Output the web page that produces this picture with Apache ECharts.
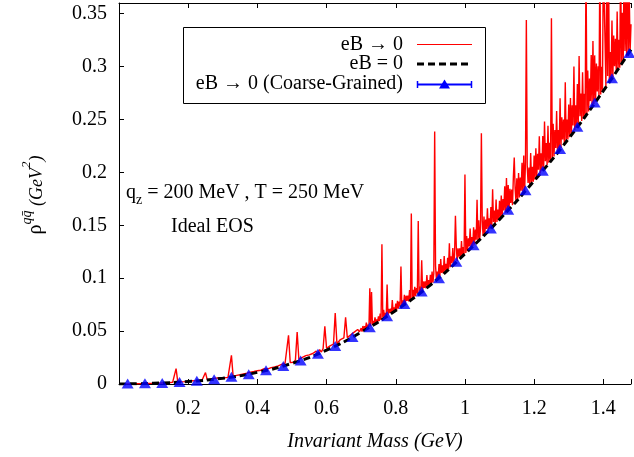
<!DOCTYPE html>
<html>
<head>
<meta charset="utf-8">
<script src="https://cdn.jsdelivr.net/npm/echarts@6/dist/echarts.min.js"></script>
<style>
  html, body { margin: 0; padding: 0; background: #fff; }
  #chart { width: 634px; height: 457px; }
</style>
</head>
<body>
<div id="chart"></div>
<script>
// Spectral function rho^{q qbar} vs invariant mass (GeV)

// eB -> 0, low-mass part: sampled every 5 MeV from 0.005 GeV
const redLowStart = 0.005;
const redLowStep = 0.005;
const redLowValues = [
  0, 0, 0, 0, 0.0001, 0.0001, 0.0001, 0.0002, 0.0002, 0.0003,
  0.0003, 0.0003, 0.0004, 0.0004, 0.0004, 0.0005, 0.0005, 0.0006, 0.0006, 0.0007,
  0.0007, 0.0008, 0.0008, 0.0009, 0.001, 0.001, 0.0011, 0.0012, 0.0013, 0.0014,
  0.0016, 0.0017, 0.0145, 0.0018, 0.0019, 0.002, 0.0024, 0.0022, 0.0023, 0.0026,
  0.0027, 0.0032, 0.0029, 0.003, 0.0034, 0.0033, 0.0036, 0.0035, 0.0048, 0.0108,
  0.0041, 0.0043, 0.0046, 0.0044, 0.0052, 0.0049, 0.0058, 0.0052, 0.0055, 0.0062,
  0.0059, 0.0066, 0.0063, 0.0071, 0.027, 0.007, 0.0078, 0.0082, 0.0079, 0.0088,
  0.0085, 0.0095, 0.0091, 0.0102, 0.0098, 0.0112, 0.0105, 0.0118, 0.0112, 0.0125,
  0.0117, 0.013, 0.0124, 0.0145, 0.0131, 0.0142, 0.0139, 0.0155, 0.0148, 0.0162,
  0.0156, 0.0172, 0.0163, 0.0185, 0.0172, 0.0196, 0.0188, 0.046, 0.0202, 0.0215,
  0.0206, 0.0228, 0.049, 0.0232, 0.0225, 0.0252, 0.0238, 0.0268, 0.0252, 0.0275,
  0.0262, 0.0288, 0.0275, 0.031, 0.029, 0.0325, 0.0302, 0.0335, 0.0546, 0.0338,
  0.0335, 0.036, 0.0345, 0.0378, 0.067, 0.038, 0.0395, 0.042, 0.0405, 0.0435,
  0.063, 0.0438, 0.0425, 0.0465, 0.0448, 0.049, 0.0472, 0.0515, 0.0492, 0.0528
];

// eB -> 0, high-mass part: sampled every 2.5 MeV from 0.7025 GeV
const redHighStart = 0.7025;
const redHighStep = 0.0025;
const redHighValues = [
  0.0495, 0.0548, 0.0505, 0.0546, 0.0524, 0.058, 0.0525, 0.056, 0.0535, 0.0905,
  0.0545, 0.087, 0.0564, 0.0596, 0.0565, 0.063, 0.0575, 0.061, 0.0585, 0.0638,
  0.0595, 0.0665, 0.0606, 0.132, 0.0628, 0.0702, 0.0627, 0.0672, 0.0637, 0.094,
  0.0648, 0.0709, 0.067, 0.0712, 0.0669, 0.0794, 0.0679, 0.0725, 0.069, 0.0759,
  0.0701, 0.0787, 0.0712, 0.0778, 0.0739, 0.111, 0.0735, 0.0791, 0.0747, 0.0843,
  0.0758, 0.0834, 0.0785, 0.0836, 0.0781, 0.0887, 0.0793, 0.161, 0.0804, 0.089,
  0.0816, 0.0919, 0.0829, 0.0907, 0.0859, 0.154, 0.0854, 0.092, 0.0866, 0.117,
  0.0879, 0.0969, 0.0909, 0.097, 0.0904, 0.103, 0.0916, 0.0983, 0.0929, 0.1031,
  0.0942, 0.1062, 0.0957, 0.1048, 0.2385, 0.1119, 0.0986, 0.1063, 0.1, 0.1134,
  0.1015, 0.118, 0.105, 0.1121, 0.1044, 0.121, 0.1058, 0.1136, 0.1073, 0.1192,
  0.1088, 0.133, 0.1103, 0.1206, 0.1142, 0.1285, 0.1133, 0.122, 0.159, 0.1299,
  0.1163, 0.1282, 0.1202, 0.1281, 0.1193, 0.135, 0.1208, 0.1295, 0.1223, 0.198,
  0.1238, 0.1398, 0.1254, 0.1376, 0.1299, 0.1468, 0.1286, 0.1389, 0.1302, 0.1481,
  0.1318, 0.1459, 0.1363, 0.174, 0.135, 0.1548, 0.1366, 0.1469, 0.237, 0.1542,
  0.1398, 0.1583, 0.1415, 0.1555, 0.1464, 0.166, 0.1448, 0.1566, 0.1464, 0.1671,
  0.1481, 0.184, 0.153, 0.1638, 0.1514, 0.1742, 0.153, 0.1649, 0.1547, 0.1731,
  0.1564, 0.1781, 0.1582, 0.1747, 0.1639, 0.1869, 0.1618, 0.1946, 0.1636, 0.1879,
  0.1654, 0.1845, 0.1711, 0.1837, 0.169, 0.1959, 0.214, 0.1847, 0.1726, 0.1943,
  0.1744, 0.1994, 0.1763, 0.1952, 0.1826, 0.2091, 0.18, 0.216, 0.1818, 0.2098,
  0.344, 0.2056, 0.19, 0.2045, 0.1874, 0.2183, 0.1892, 0.2052, 0.1911, 0.216,
  0.193, 0.2228, 0.195, 0.2176, 0.2024, 0.234, 0.199, 0.218, 0.201, 0.2344,
  0.203, 0.248, 0.2104, 0.2276, 0.207, 0.244, 0.209, 0.228, 0.211, 0.3455,
  0.213, 0.246, 0.215, 0.24, 0.223, 0.258, 0.219, 0.24, 0.221, 0.27,
  0.223, 0.252, 0.231, 0.25, 0.227, 0.285, 0.229, 0.25, 0.231, 0.264,
  0.2331, 0.2702, 0.2353, 0.2634, 0.2443, 0.3, 0.2397, 0.2633, 0.2419, 0.2835,
  0.2441, 0.31, 0.253, 0.2744, 0.2485, 0.2946, 0.2507, 0.2743, 0.2529, 0.4,
  0.2552, 0.2963, 0.2575, 0.2886, 0.2673, 0.3109, 0.2621, 0.324, 0.2644, 0.3105,
  0.2667, 0.3028, 0.2765, 0.3001, 0.2713, 0.4, 0.2736, 0.2997, 0.2759, 0.4,
  0.4, 0.3233, 0.2805, 0.4, 0.2911, 0.4, 0.2851, 0.3137, 0.2874, 0.3435,
  0.2897, 0.3293, 0.3003, 0.3261, 0.2943, 0.352, 0.2966, 0.3252, 0.2989, 0.4,
  0.3013, 0.3507, 0.304, 0.4, 0.3147, 0.368, 0.3093, 0.4, 0.312, 0.3673,
  0.3147, 0.34
];

// eB = 0 : smooth reference curve
const blackX = [0, 0.1, 0.2, 0.3, 0.4, 0.5, 0.6, 0.7, 0.8, 0.9, 1.0, 1.1, 1.2, 1.3, 1.4, 1.48];
const blackY = [0, 0.0007, 0.0024, 0.0055, 0.011, 0.0195, 0.032, 0.049, 0.0695, 0.0935, 0.123, 0.1555, 0.192, 0.232, 0.277, 0.316];

// eB -> 0, coarse-grained in 50 MeV bins
const cgX = [0.025, 0.075, 0.125, 0.175, 0.225, 0.275, 0.325, 0.375, 0.425, 0.475,
             0.525, 0.575, 0.625, 0.675, 0.725, 0.775, 0.825, 0.875, 0.925, 0.975,
             1.025, 1.075, 1.125, 1.175, 1.225, 1.275, 1.325, 1.375, 1.425, 1.475];
const cgY = [0.0005, 0.0006, 0.001, 0.002, 0.003, 0.0045, 0.0068, 0.0092, 0.013, 0.017,
             0.0223, 0.0286, 0.0358, 0.0443, 0.0537, 0.064, 0.0755, 0.0875, 0.0999, 0.1156,
             0.1312, 0.1469, 0.1646, 0.183, 0.2016, 0.222, 0.243, 0.266, 0.289, 0.3127];

// Legend entries and axis title
const legendLabels = ['eB \u2192 0', 'eB = 0', 'eB \u2192 0 (Coarse-Grained)'];
const xTitle = 'Invariant Mass (GeV)';

const SERIF = '"Liberation Serif", "Times New Roman", serif';

const redData = redLowValues.map((v, i) => [+(redLowStart + i * redLowStep).toFixed(4), v])
  .concat(redHighValues.map((v, i) => [+(redHighStart + i * redHighStep).toFixed(4), v]));
const blackData = blackX.map((x, i) => [x, blackY[i]]);
const cgData = cgX.map((x, i) => [x, cgY[i]]);

const chart = echarts.init(document.getElementById('chart'), null, { renderer: 'canvas' });

const axisLineStyle = { color: '#000', width: 1 };
const legendRows = [45, 64, 84];

const option = {
  animation: false,
  backgroundColor: '#fff',
  grid: { left: 119, right: 0, top: 3, bottom: 70 },
  xAxis: [
    {
      type: 'value', min: 0, max: 1.48, interval: 0.2, position: 'bottom',
      axisLine: { show: true, lineStyle: axisLineStyle },
      axisTick: { show: true, inside: true, length: 5, lineStyle: axisLineStyle },
      splitLine: { show: false },
      axisLabel: {
        color: '#000', fontFamily: SERIF, fontSize: 20, margin: 15,
        formatter: v => (v <= 0 || v > 1.41) ? '' : String(+v.toFixed(1))
      },
      name: xTitle, nameLocation: 'middle', nameGap: 48,
      nameTextStyle: { color: '#000', fontFamily: SERIF, fontSize: 20, fontStyle: 'italic' }
    },
    {
      type: 'value', min: 0, max: 1.48, interval: 0.2, position: 'top',
      axisLine: { show: true, lineStyle: axisLineStyle },
      axisTick: { show: true, inside: true, length: 5, lineStyle: axisLineStyle },
      splitLine: { show: false },
      axisLabel: { show: false }
    }
  ],
  yAxis: [
    {
      type: 'value', min: 0, max: 0.36, interval: 0.05,
      axisLine: { show: true, lineStyle: axisLineStyle },
      axisTick: { show: true, inside: true, length: 5, lineStyle: axisLineStyle },
      splitLine: { show: false },
      axisLabel: {
        color: '#000', fontFamily: SERIF, fontSize: 20, margin: 12,
        formatter: v => v > 0.351 ? '' : String(+v.toFixed(2))
      }
    }
  ],
  series: [
    {
      name: legendLabels[0], type: 'line', data: redData,
      showSymbol: false, clip: true, z: 2,
      lineStyle: { color: '#ff0000', width: 1.4 }
    },
    {
      name: legendLabels[1], type: 'line', data: blackData,
      smooth: true, showSymbol: false, clip: true, z: 3,
      lineStyle: { color: '#000', width: 3, type: [7, 4] }
    },
    {
      name: legendLabels[2], type: 'scatter', data: cgData,
      symbol: 'triangle', symbolSize: [12, 10], clip: false, z: 4,
      itemStyle: { color: '#0000ff' }
    }
  ],
  graphic: [
    // y-axis title
    {
      type: 'text', x: 33, y: 195, rotation: Math.PI / 2, z: 10,
      style: {
        text: '{r|\u03c1}{s|qq\u0304}{g| (GeV}{s2|2}{g|)}',
        align: 'center', verticalAlign: 'middle', fill: '#000',
        rich: {
          r: { fontFamily: SERIF, fontSize: 20, lineHeight: 26, verticalAlign: 'bottom' },
          s: { fontFamily: SERIF, fontSize: 14, fontStyle: 'italic', lineHeight: 26, verticalAlign: 'top' },
          g: { fontFamily: SERIF, fontSize: 18, fontStyle: 'italic', lineHeight: 26, verticalAlign: 'bottom' },
          s2: { fontFamily: SERIF, fontSize: 13, fontStyle: 'italic', lineHeight: 26, verticalAlign: 'top' }
        }
      }
    },
    // annotation
    {
      type: 'text', x: 126, y: 193, z: 10,
      style: {
        text: '{q|q}{z|z}{t| = 200 MeV , T = 250 MeV}',
        align: 'left', verticalAlign: 'middle', fill: '#000',
        rich: {
          q: { fontFamily: SERIF, fontSize: 20, lineHeight: 28, verticalAlign: 'middle' },
          z: { fontFamily: SERIF, fontSize: 14, lineHeight: 28, verticalAlign: 'bottom' },
          t: { fontFamily: SERIF, fontSize: 20, lineHeight: 28, verticalAlign: 'middle' }
        }
      }
    },
    {
      type: 'text', x: 171, y: 227, z: 10,
      style: { text: 'Ideal EOS', font: '20px ' + SERIF, fill: '#000', align: 'left', verticalAlign: 'middle' }
    },
    // legend box
    {
      type: 'rect', z: 10,
      shape: { x: 183.5, y: 27.5, width: 302, height: 76 },
      style: { fill: '#fff', stroke: '#000', lineWidth: 1 }
    },
    ...legendLabels.map((t, i) => ({
      type: 'text', x: 403, y: legendRows[i], z: 11,
      style: { text: t, font: '20px ' + SERIF, fill: '#000', align: 'right', verticalAlign: 'middle' }
    })),
    {
      type: 'line', z: 11,
      shape: { x1: 417, y1: legendRows[0] - 0.5, x2: 472, y2: legendRows[0] - 0.5 },
      style: { stroke: '#ff0000', lineWidth: 1 }
    },
    {
      type: 'line', z: 11,
      shape: { x1: 417, y1: legendRows[1], x2: 472, y2: legendRows[1] },
      style: { stroke: '#000', lineWidth: 3, lineDash: [7, 4] }
    },
    {
      type: 'line', z: 11,
      shape: { x1: 417, y1: legendRows[2] + 0.5, x2: 472, y2: legendRows[2] + 0.5 },
      style: { stroke: '#0000ff', lineWidth: 2 }
    },
    {
      type: 'line', z: 11,
      shape: { x1: 417.5, y1: legendRows[2] - 3, x2: 417.5, y2: legendRows[2] + 4 },
      style: { stroke: '#0000ff', lineWidth: 1.5 }
    },
    {
      type: 'line', z: 11,
      shape: { x1: 471.5, y1: legendRows[2] - 3, x2: 471.5, y2: legendRows[2] + 4 },
      style: { stroke: '#0000ff', lineWidth: 1.5 }
    },
    {
      type: 'polygon', z: 12,
      shape: { points: [[444.5, legendRows[2] - 4.5], [450, legendRows[2] + 4.5], [439, legendRows[2] + 4.5]] },
      style: { fill: '#0000ff' }
    }
  ]
};

chart.setOption(option);
</script>
</body>
</html>
